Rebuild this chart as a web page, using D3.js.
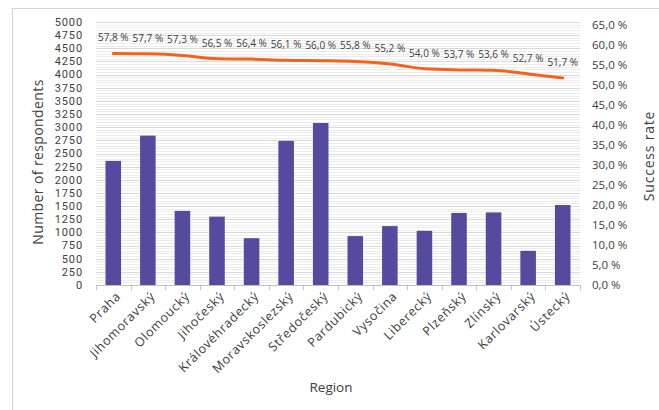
<!DOCTYPE html>
<html>
<head>
<meta charset="utf-8">
<script src="https://cdn.jsdelivr.net/npm/d3@7"></script>
<style>
  html, body { margin: 0; padding: 0; background: #fff; }
  svg text { font-family: "Open Sans", "Noto Sans", sans-serif; fill: #404040; }
</style>
</head>
<body>
<svg id="chart" width="659" height="410"></svg>
<script>
"use strict";

// ── Data ──────────────────────────────────────────────────────────────────────
const regions = ["Praha", "Jihomoravský", "Olomoucký", "Jihočeský", "Královéhradecký",
  "Moravskoslezský", "Středočeský", "Pardubický", "Vysočina", "Liberecký",
  "Plzeňský", "Zlínský", "Karlovarský", "Ústecký"];
const respondents = [2360, 2840, 1410, 1300, 890, 2740, 3080, 930, 1120, 1030, 1370, 1380, 650, 1520];
const successRate = [57.8, 57.7, 57.3, 56.5, 56.4, 56.1, 56.0, 55.8, 55.2, 54.0, 53.7, 53.6, 52.7, 51.7];
const leftTicks  = d3.range(0, 5001, 250);
const rightTicks = d3.range(0, 66, 5);

// ── Layout ────────────────────────────────────────────────────────────────────
const M = { left: 96, right: 580, top: 22, bottom: 285 };
const svg = d3.select("#chart");

// chart frame
svg.append("rect")
  .attr("x", 12.5).attr("y", 8.5).attr("width", 700).attr("height", 500)
  .attr("fill", "none").attr("stroke", "#d4d4d4");

const x  = d3.scaleBand().domain(regions).range([M.left, M.right]);
const yL = d3.scaleLinear().domain([0, 5000]).range([M.bottom, M.top]);
const yR = d3.scaleLinear().domain([0, 65]).range([M.bottom, yL(4950)]);
const cx = (d) => x(d) + x.bandwidth() / 2;

// ── Gridlines (major every 250, minor every 50) ──────────────────────────────
const grid = svg.append("g");
const snap = (v) => Math.round(yL(v)) + 0.5;
grid.selectAll("line.minor")
  .data(d3.range(0, 5001, 50).filter((v) => v % 250 !== 0))
  .join("line")
  .attr("x1", M.left).attr("x2", M.right)
  .attr("y1", snap).attr("y2", snap)
  .attr("stroke", "#ececec");
grid.selectAll("line.major")
  .data(leftTicks.slice(1))
  .join("line")
  .attr("x1", M.left).attr("x2", M.right)
  .attr("y1", snap).attr("y2", snap)
  .attr("stroke", "#d9d9d9");

// ── Bars ──────────────────────────────────────────────────────────────────────
const barW = x.bandwidth() * 0.45;
svg.append("g").selectAll("rect")
  .data(regions)
  .join("rect")
  .attr("x", (d) => cx(d) - barW / 2)
  .attr("y", (d, i) => yL(respondents[i]))
  .attr("width", barW)
  .attr("height", (d, i) => yL(0) - yL(respondents[i]))
  .attr("fill", "#564a9f");

// ── Axes ──────────────────────────────────────────────────────────────────────
const xAxis = svg.append("g");
xAxis.append("line")
  .attr("x1", M.left).attr("x2", M.right)
  .attr("y1", M.bottom + 0.5).attr("y2", M.bottom + 0.5)
  .attr("stroke", "#bfbfbf");
xAxis.selectAll("line.tick")
  .data(d3.range(regions.length + 1))
  .join("line")
  .attr("x1", (i) => Math.round(M.left + i * x.step()) + 0.5)
  .attr("x2", (i) => Math.round(M.left + i * x.step()) + 0.5)
  .attr("y1", M.bottom).attr("y2", M.bottom + 5)
  .attr("stroke", "#bfbfbf");
xAxis.selectAll("text")
  .data(regions)
  .join("text")
  .attr("transform", (d) => `translate(${cx(d) + 5},${M.bottom + 9}) rotate(-45)`)
  .attr("text-anchor", "end")
  .attr("dy", "0.35em")
  .style("font-size", "12.5px")
  .style("letter-spacing", "0.7px")
  .text((d) => d);

// left axis labels
svg.append("g").selectAll("text")
  .data(leftTicks)
  .join("text")
  .attr("x", 83).attr("y", (d) => yL(d))
  .attr("dy", "0.35em")
  .attr("text-anchor", "end")
  .style("font-family", "Roboto, sans-serif")
  .style("font-size", "11px")
  .style("letter-spacing", "0.9px")
  .text((d) => d);

// right axis labels
const fmtPct = (v) => d3.format(".1f")(v).replace(".", ",") + " %";
svg.append("g").selectAll("text")
  .data(rightTicks)
  .join("text")
  .attr("x", 592).attr("y", (d) => yR(d))
  .attr("dy", "0.35em")
  .style("font-size", "11.5px")
  .text(fmtPct);

// axis titles
svg.append("text")
  .attr("transform", "translate(43,162) rotate(-90)")
  .attr("text-anchor", "middle")
  .style("font-size", "14px")
  .style("letter-spacing", "0.4px")
  .text("Number of respondents");
svg.append("text")
  .attr("transform", "translate(654,156) rotate(-90)")
  .attr("text-anchor", "middle")
  .style("font-size", "14px")
  .style("letter-spacing", "0.8px")
  .text("Success rate");
svg.append("text")
  .attr("x", 331).attr("y", 392)
  .attr("text-anchor", "middle")
  .style("font-size", "13.5px")
  .text("Region");

// ── Success rate line ─────────────────────────────────────────────────────────
const line = d3.line()
  .x((d, i) => cx(regions[i]))
  .y((d) => yR(d))
  .curve(d3.curveMonotoneX);
svg.append("path")
  .datum(successRate)
  .attr("d", line)
  .attr("fill", "none")
  .attr("stroke", "#f4621f")
  .attr("stroke-width", 3)
  .attr("stroke-linecap", "round");

svg.append("g").selectAll("text")
  .data(successRate)
  .join("text")
  .attr("x", (d, i) => cx(regions[i]))
  .attr("y", (d) => yR(d) - 12)
  .attr("text-anchor", "middle")
  .style("font-size", "10px")
  .text(fmtPct);
</script>
</body>
</html>
